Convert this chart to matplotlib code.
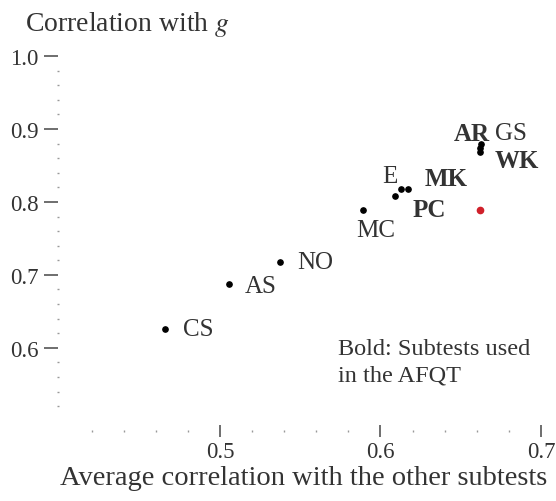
import matplotlib
matplotlib.use("Agg")
import matplotlib.pyplot as plt
import numpy as np

plt.rcParams['font.family'] = ['Liberation Serif', 'DejaVu Serif']
plt.rcParams['mathtext.fontset'] = 'stix'

# subtests of the ASVAB
names = ['CS', 'AS', 'NO', 'MC', 'PC', 'E', 'MK', 'AR', 'GS', 'WK']
avg_corr = [0.4657, 0.5056, 0.5374, 0.589, 0.609, 0.613, 0.617, 0.6626, 0.662, 0.662]
g_corr = [0.626, 0.688, 0.718, 0.789, 0.808, 0.818, 0.818, 0.879, 0.874, 0.869]
in_afqt = [False, False, False, False, True, False, True, True, False, True]

# the extra red point
red_x = [0.662]
red_y = [0.789]

# label offsets in pixels (dx, dy, ha)
offsets = {
    'CS': (18, 0, 'left'), 'AS': (16, -2, 'left'), 'NO': (17, 0, 'left'),
    'MC': (13, -20, 'center'), 'PC': (18, -13, 'left'), 'E': (-4, 13, 'right'),
    'MK': (17, 10, 'left'), 'AR': (-9, 11, 'center'), 'GS': (15, 15, 'left'),
    'WK': (15, -9, 'left'),
}

txt = '#333333'
fig = plt.figure(figsize=(5.56, 5.02), dpi=100)
ax = fig.add_axes([0.1043, 0.1394, 0.883, 0.747])

ax.plot(avg_corr, g_corr, 'o', color='black', markersize=3.8, zorder=3)
ax.plot(red_x, red_y, 'o', color='#d0202a', markersize=4.5, zorder=3)

for n, x, y, b in zip(names, avg_corr, g_corr, in_afqt):
    dx, dy, ha = offsets[n]
    ax.annotate(n, (x, y), xytext=(dx, dy), textcoords='offset pixels',
                ha=ha, va='center', fontsize=18, color=txt,
                fontweight='bold' if b else 'normal')

ax.text(0.5738, 0.581, 'Bold: Subtests used\nin the AFQT', fontsize=17.5,
        color=txt, ha='left', va='center', linespacing=1.35)

ax.set_xlim(0.399, 0.705)
ax.set_ylim(0.486, 1.0)
for s in ax.spines.values():
    s.set_visible(False)

ax.set_xticks([0.5, 0.6, 0.7])
ax.set_xticklabels(['0.5', '0.6', '0.7'])
ax.set_xticks(np.arange(0.42, 0.70, 0.02), minor=True)
ax.set_yticks([0.6, 0.7, 0.8, 0.9, 1.0])
ax.set_yticklabels(['0.6', '0.7', '0.8', '0.9', '1.0'])
ax.set_yticks(np.arange(0.52, 0.99, 0.02), minor=True)

ax.tick_params(axis='both', which='major', colors='#555555', labelcolor=txt,
               labelsize=16.5, width=1.2)
ax.tick_params(axis='both', which='minor', colors='#999999', width=1,
               length=2, direction='inout')
ax.tick_params(axis='x', which='major', length=8, direction='inout', pad=3)
ax.tick_params(axis='y', which='major', length=10, direction='out', pad=4)

ax.set_xlabel('Average correlation with the other subtests', fontsize=20.5,
              color=txt, labelpad=2)
fig.text(0.045, 0.952, 'Correlation with $g$', fontsize=20, color=txt,
         ha='left', va='center')

fig.savefig('out.png', dpi=100)
